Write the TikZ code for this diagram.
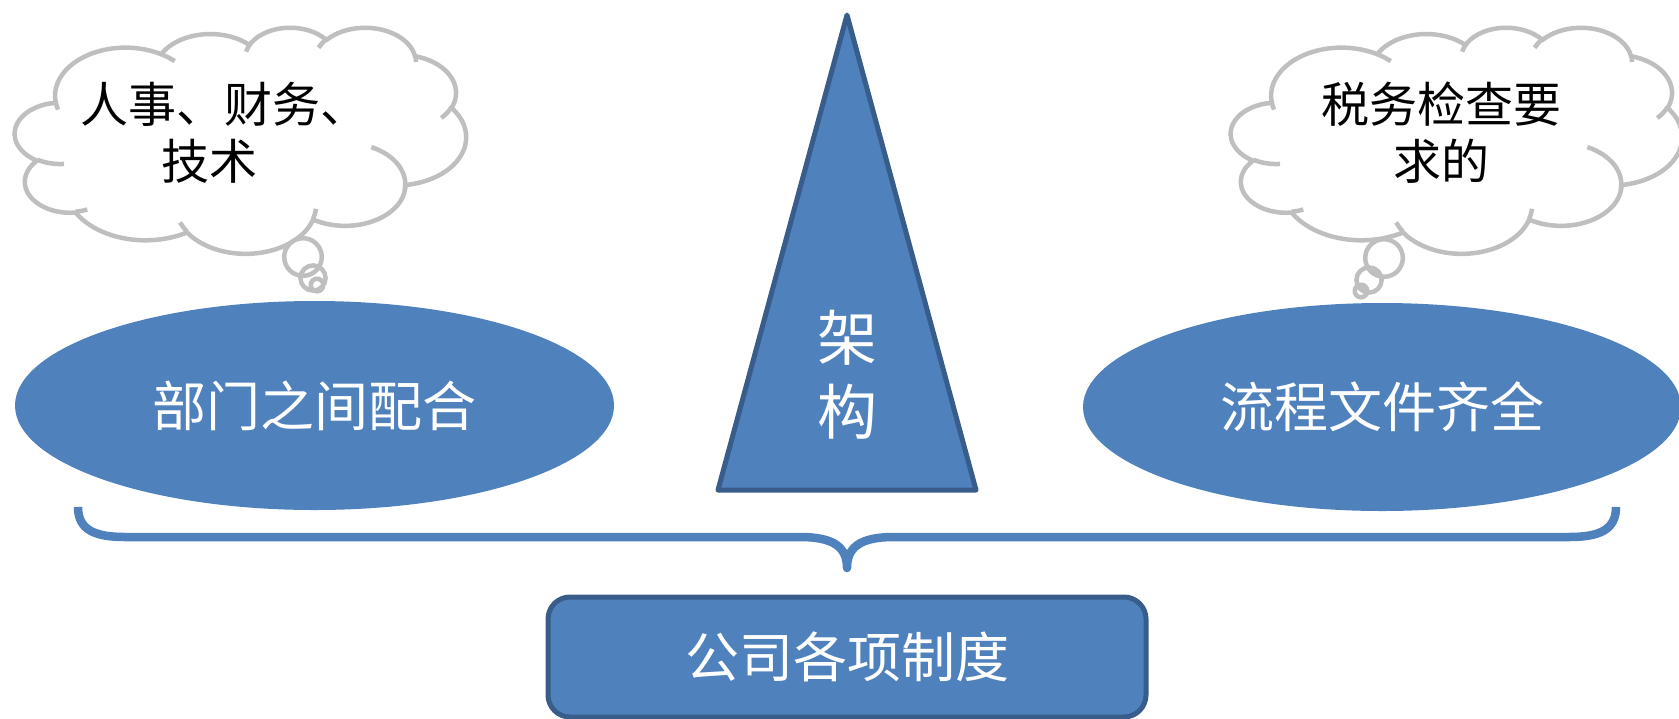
\documentclass[tikz,border=0pt]{standalone}
\usepackage{fontspec}
\newfontfamily\cjk{Noto Sans CJK SC}
\usetikzlibrary{shapes.geometric}
\definecolor{accblue}{HTML}{4F81BD}
\definecolor{accdark}{HTML}{385D8A}
\definecolor{cloudgray}{HTML}{BFBFBF}

% OOXML-style arcTo: visual angles converted to parametric ones
\newcommand\ooprep[5]{%
  \pgfmathsetmacro\ootmpa{atan2((#2)*sin(#4),(#3)*cos(#4))}%
  \pgfmathsetmacro\ootmpb{atan2((#2)*sin((#4)+(#5)),(#3)*cos((#4)+(#5)))}%
  \pgfmathsetmacro\ootmpd{mod(\ootmpb-\ootmpa+720,360)}%
  \expandafter\xdef\csname oo#1\endcsname{arc[start angle=\ootmpa, delta angle=\ootmpd, x radius=#2, y radius=#3]}%
}
\ooprep{A}{67.53}{91.90}{-190.4875}{123.7805}
\ooprep{B}{53.33}{72.67}{-144.1024}{89.9452}
\ooprep{C}{43.65}{59.45}{-145.8079}{99.7230}
\ooprep{D}{48.57}{65.95}{-130.9861}{117.2417}
\ooprep{E}{53.33}{72.73}{-78.7089}{109.0269}
\ooprep{F}{67.75}{92.20}{-46.2673}{130.2690}
\ooprep{G}{57.85}{78.67}{0.6250}{114.0333}
\ooprep{H}{67.52}{92.15}{22.4516}{115.1726}
\ooprep{I}{77.20}{105.43}{66.2426}{75.7110}
\ooprep{J}{43.60}{59.18}{-274.9421}{146.7356}
\ooprep{K}{43.45}{59.45}{-246.8285}{152.5189}
\ooprep{a}{43.45}{59.45}{86.7420}{26.4295}
\ooprep{b}{43.60}{59.18}{73.6105}{11.4475}
\ooprep{c}{67.52}{92.15}{137.6242}{14.0811}
\ooprep{d}{67.52}{92.15}{6.4533}{15.9984}
\ooprep{e}{57.85}{78.67}{-70.2924}{81.5695}
\ooprep{f}{53.33}{72.73}{30.3180}{20.9552}
\ooprep{g}{48.57}{65.95}{-13.7443}{14.8564}
\ooprep{h}{48.57}{65.95}{-149.1815}{18.1888}
\ooprep{i}{43.65}{59.45}{-163.4943}{17.6844}
\ooprep{j}{67.53}{91.90}{-66.7070}{12.3194}
\ooprep{k}{67.53}{91.90}{157.6544}{11.8582}

\newcommand\drawcloud{%
  \filldraw[cloudline, fill=white] (39.00,143.70) \ooA \ooB \ooC \ooD \ooE \ooF \ooG \ooH \ooI \ooJ \ooK -- cycle;
  \draw[cloudline] (46.93,261.77) \ooa;
  \draw[cloudline] (69.28,348.99) \oob;
  \draw[cloudline] (164.78,390.90) \ooc;
  \draw[cloudline] (288.27,347.51) \ood;
  \draw[cloudline] (341.29,229.54) \ooe;
  \draw[cloudline] (417.98,153.54) \oof;
  \draw[cloudline] (383.24,54.26) \oog;
  \draw[cloudline] (290.78,39.52) \ooh;
  \draw[cloudline] (221.41,47.20) \ooi;
  \draw[cloudline] (140.00,51.92) \ooj;
  \draw[cloudline] (41.27,157.89) \ook;
}

\begin{document}
\begin{tikzpicture}[x=0.5pt,y=-0.5pt,
  cloudline/.style={draw=cloudgray, line width=2.25pt, line join=round},
  ovalnode/.style={ellipse, fill=accblue, inner sep=0pt, text=white,
    font=\cjk\fontsize{27pt}{32pt}\selectfont},
  cloudtext/.style={align=center, text=black, inner sep=0pt,
    font=\cjk\fontsize{24pt}{28.5pt}\selectfont},
  bracepath/.style={draw=accblue, line width=4.25pt, line join=round}]
\useasboundingbox (0,0) rectangle (1679,718);

% left cloud
\begin{scope}[shift={(15,27)}, x=0.522pt, y=-0.2616pt]
  \drawcloud
\end{scope}
\path[fill=white] (303,257) circle[radius=18.8] (313,278) circle[radius=12.6] (317,285) circle[radius=6.3];
\draw[cloudline] (303,257) circle[radius=18.8] (313,278) circle[radius=12.6] (317,285) circle[radius=6.3];
\node[cloudtext] (cloudL) at (224,133) {人事、财务、\\技术\hspace*{15pt}};

% right cloud
\begin{scope}[shift={(1231,27)}, x=0.522pt, y=-0.2616pt]
  \drawcloud
\end{scope}
\path[fill=white] (1384,258) circle[radius=18.8] (1369,280) circle[radius=12.6] (1361,291) circle[radius=6.3];
\draw[cloudline] (1384,258) circle[radius=18.8] (1369,280) circle[radius=12.6] (1361,291) circle[radius=6.3];
\node[cloudtext] (cloudR) at (1441,133) {税务检查要\\求的};

% ellipses
\node[ovalnode, minimum width=299.5pt, minimum height=104.5pt] (left) at (314.5,405.5) {部门之间配合};
\node[ovalnode, minimum width=299pt, minimum height=104pt] (right) at (1382,407) {流程文件齐全};

% triangle
\coordinate (tA) at (847,15);
\coordinate (tB) at (718,490);
\coordinate (tC) at (976,490);
\filldraw[fill=accblue, draw=accdark, line width=2.5pt, line join=round] (tA) -- (tB) -- (tC) -- cycle;
\node[align=center, text=white, inner sep=0pt, font=\cjk\fontsize{30pt}{37pt}\selectfont] (frame) at (847,375) {架\\构};

% brace
\coordinate (bl) at (78,507);
\coordinate (br) at (1616,507);
\coordinate (bt) at (847,568);
\draw[bracepath] (bl) .. controls (78,530) and (95,537) .. (125,537) -- (800,537)
  .. controls (835,537) and (847,548) .. (bt)
  .. controls (847,548) and (859,537) .. (894,537) -- (1569,537)
  .. controls (1599,537) and (1616,530) .. (br);

% bottom box
\node[draw=accdark, fill=accblue, line width=2.5pt, rounded corners=11pt,
  minimum width=299pt, minimum height=60pt, inner sep=0pt, text=white,
  font=\cjk\fontsize{27pt}{32pt}\selectfont] (base) at (847,657) {\raisebox{-2pt}{公司各项制度}};
\end{tikzpicture}
\end{document}
